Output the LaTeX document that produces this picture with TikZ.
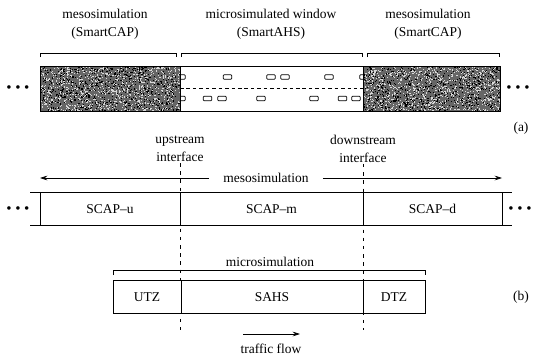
\documentclass[tikz,border=0pt]{standalone}
\usepackage{fontspec}
\setmainfont{Liberation Serif}
\usetikzlibrary{positioning, backgrounds, arrows.meta}
\newcommand\pxl{0.03cm}
\tikzset{
  lbl/.style={font=\fontsize{11.5}{15}\selectfont, align=center, inner sep=1pt},
  road/.style={draw, line width=0.8pt, minimum height=45*\pxl, inner sep=0pt, outer sep=0pt},
  seg/.style={draw, line width=0.7pt, minimum height=33*\pxl, inner sep=0pt, outer sep=0pt,
              font=\fontsize{11.5}{13}\selectfont},
  car/.style={draw, line width=0.6pt, rounded corners=0.8pt, minimum width=8.5*\pxl,
              minimum height=4.5*\pxl, inner sep=0pt},
  brace/.style={line width=0.6pt},
  iface/.style={line width=0.6pt, dash pattern=on 3pt off 4pt},
  flow/.style={-{Stealth[length=2.2mm, width=1.4mm]}, line width=0.6pt},
  dots/.style={font=\fontsize{7}{8}\selectfont, inner sep=0pt},
}

\begin{document}
\begin{tikzpicture}[x=\pxl, y=-\pxl]
  \useasboundingbox (0,0) rectangle (534,358);

  % (a) the road
  \node[road, minimum width=140*\pxl] (mesol) at (110,88.5) {};
  \node[road, minimum width=183*\pxl] (micro) at (271.5,88.5) {};
  \node[road, minimum width=137*\pxl] (mesor) at (431.5,88.5) {};

  \pgfmathsetseed{7}
  \begin{scope}[on background layer]
    \foreach \blk in {mesol, mesor}{
      \begin{scope}
        \clip (\blk.south west) rectangle (\blk.north east);
        \fill[black!60] (\blk.south west) rectangle (\blk.north east);
        \foreach \i in {1,...,1000}
          \fill[white!85!black] ([shift={(rnd*140,-rnd*46)}]\blk.south west) rectangle ++(1.1,1.1);
        \foreach \i in {1,...,700}
          \fill[black] ([shift={(rnd*140,-rnd*46)}]\blk.south west) rectangle ++(1.1,1.1);
      \end{scope}
    }
  \end{scope}

  \draw[dashed, line width=0.6pt, dash pattern=on 3pt off 2.5pt] (micro.west) -- (micro.east);
  \begin{scope}
    \clip (micro.south west) rectangle (micro.north east);
    \foreach \cx [count=\k] in {181, 227.5, 271, 285, 329, 364}
      \node[car] (cu\k) at (\cx,77) {};
    \foreach \cx [count=\k] in {181, 207.5, 222, 261, 314, 342.5, 356}
      \node[car] (cl\k) at (\cx,98.5) {};
  \end{scope}

  \draw[brace] (40,57) |- (176,53) -- (176,57);
  \draw[brace] (181,57) |- (362,53) -- (362,57);
  \draw[brace] (367,57) |- (499,53) -- (499,57);
  \node[lbl] (lmesol) at (105,24) {mesosimulation\\(SmartCAP)};
  \node[lbl] (lmicro) at (271,24) {microsimulated window\\(SmartAHS)};
  \node[lbl] (lmesor) at (428,24) {mesosimulation\\(SmartCAP)};

  \node[dots] (dal) at (18,88) {$\bullet$\enskip$\bullet$\enskip$\bullet$};
  \node[dots] (dar) at (518,88) {$\bullet$\enskip$\bullet$\enskip$\bullet$};
  \node[lbl] (taga) at (521,128) {(a)};

  % (b) the interfaces
  \node[lbl] (upif) at (180,149) {upstream\\interface};
  \node[lbl] (dnif) at (363,149) {downstream\\interface};
  \coordinate (upend) at (180,330);
  \coordinate (dnend) at (363,330);
  \draw[iface] (upif.south) -- (upend);
  \draw[iface] (dnif.south) -- (dnend);

  \node[lbl, inner xsep=14*\pxl] (mesob) at (266,178) {mesosimulation};
  \coordinate (mesl) at (40,178);
  \coordinate (mesr) at (502,178);
  \draw[flow] (mesob.west) -- (mesl);
  \draw[flow] (mesob.east) -- (mesr);

  \node[seg, fill=white, minimum width=140*\pxl] (scapu) at (110,209) {SCAP--u};
  \node[seg, fill=white, minimum width=183*\pxl] (scapm) at (271.5,209) {SCAP--m};
  \node[seg, fill=white, minimum width=139*\pxl] (scapd) at (432.5,209) {SCAP--d};
  \draw[line width=0.7pt] (scapu.north west) -- ++(-10,0);
  \draw[line width=0.7pt] (scapu.south west) -- ++(-10,0);
  \draw[line width=0.7pt] (scapd.north east) -- ++(10,0);
  \draw[line width=0.7pt] (scapd.south east) -- ++(10,0);
  \node[dots] (dbl) at (18,209) {$\bullet$\enskip$\bullet$\enskip$\bullet$};
  \node[dots] (dbr) at (520,209) {$\bullet$\enskip$\bullet$\enskip$\bullet$};

  \node[lbl] (lmicb) at (270,262) {microsimulation};
  \draw[brace] (113,275) |- (425,270) -- (425,275);
  \node[seg, fill=white, minimum width=68*\pxl] (utz) at (147,297) {UTZ};
  \node[seg, fill=white, minimum width=182*\pxl] (sahs) at (272,297) {SAHS};
  \node[seg, fill=white, minimum width=62*\pxl] (dtz) at (394,297) {DTZ};
  \node[lbl] (tagb) at (521,297) {(b)};

  \coordinate (tfa) at (243,334);
  \coordinate (tfb) at (300,334);
  \draw[flow] (tfa) -- (tfb);
  \node[lbl] (tflow) at (271,349) {traffic flow};
\end{tikzpicture}
\end{document}
